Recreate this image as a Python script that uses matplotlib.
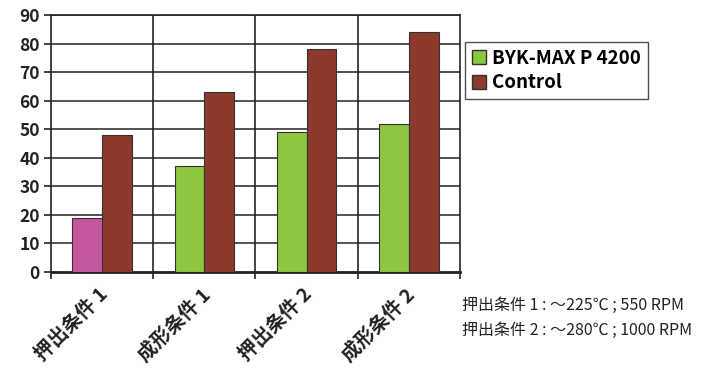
import numpy as np
import matplotlib.pyplot as plt
from matplotlib.patches import Patch

plt.rcParams['font.family'] = ['Noto Sans CJK JP', 'DejaVu Sans']

categories = ['押出条件 1', '成形条件 1', '押出条件 2', '成形条件 2']
byk = [19, 37, 49, 52]
control = [48, 63, 78, 84]
byk_colors = ['#c4589f', '#8dc63f', '#8dc63f', '#8dc63f']
notes = ['押出条件 1 : ～225℃ ; 550 RPM', '押出条件 2 : ～280℃ ; 1000 RPM']

fig = plt.figure(figsize=(7.07, 3.71), dpi=100)
ax = fig.add_axes([0.0721, 0.2668, 0.5785, 0.6928])

x = np.arange(len(categories))
w = 0.29
ax.bar(x - w / 2, byk, w, color=byk_colors, edgecolor='#333333', linewidth=0.8, zorder=3)
ax.bar(x + w / 2, control, w, color='#8b3a2b', edgecolor='#333333', linewidth=0.8, zorder=3)

ax.set_xlim(-0.5, len(categories) - 0.5)
ax.set_ylim(0, 90)
ax.set_yticks(range(0, 91, 10))
ax.set_yticklabels([str(v) for v in range(0, 91, 10)], fontweight='bold', fontsize=12.5, color='#222222')
ax.set_xticks(np.arange(-0.5, len(categories), 1.0))
ax.set_xticklabels([])
ax.tick_params(axis='y', length=5, width=1.2, color='#222222', pad=3)
ax.tick_params(axis='x', length=5, width=1.2, color='#222222')

for yv in range(10, 91, 10):
    ax.axhline(yv, color='#333333', lw=1.2, zorder=1)
for xv in np.arange(0.5, len(categories) - 0.5, 1.0):
    ax.axvline(xv, color='#222222', lw=1.2, zorder=1)

for s in ['left', 'right', 'top']:
    ax.spines[s].set_color('#222222')
    ax.spines[s].set_linewidth(1.2)
ax.spines['bottom'].set_color('#222222')
ax.spines['bottom'].set_linewidth(2)

for xi, lab in zip(x, categories):
    ax.annotate(lab, xy=(xi, 0), xycoords=('data', 'axes fraction'),
                xytext=(-3, -9), textcoords='offset points',
                rotation=45, ha='right', va='top', rotation_mode='anchor',
                fontsize=14, fontweight='bold', color='#222222')

handles = [Patch(facecolor='#8dc63f', edgecolor='#333333', label='BYK-MAX P 4200'),
           Patch(facecolor='#8b3a2b', edgecolor='#333333', label='Control')]
leg = fig.legend(handles=handles, loc='upper left', bbox_to_anchor=(465 / 707, 1 - 42 / 371),
                 frameon=True, fancybox=False, edgecolor='#222222',
                 prop={'weight': 'bold', 'size': 13.5}, handlelength=0.75, handleheight=0.75,
                 handletextpad=0.35, borderpad=0.35, labelspacing=0.3, borderaxespad=0)
leg.get_frame().set_linewidth(1.0)

for i, t in enumerate(notes):
    fig.text(462 / 707, 1 - (305 + 25 * i) / 371, t, fontsize=11.5, color='#222222', va='center')

fig.savefig('out.png', dpi=100)
